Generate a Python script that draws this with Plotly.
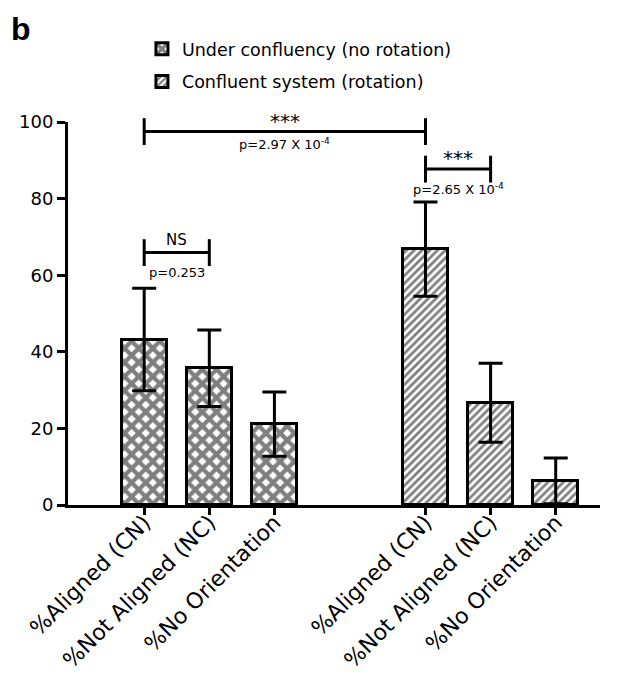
import plotly.graph_objects as go

# bar data
labels = ["%Aligned (CN)", "%Not Aligned (NC)", "%No Orientation"]
x_under = [0, 1, 2]
x_conf = [4.32, 5.32, 6.32]
mean_under = [43.2, 35.7, 21.1]
sem_under = [13.4, 10.0, 8.4]
mean_conf = [66.8, 26.7, 6.3]
sem_conf = [12.3, 10.3, 6.0]

# significance comparisons: (x from, x to, line height, stars, p text)
comparisons = [
    (0, 4.32, 97.5, "***", "p=2.97 X 10<sup>-4</sup>"),
    (4.32, 5.32, 87.7, "***", "p=2.65 X 10<sup>-4</sup>"),
    (0, 1, 65.9, "NS", "p=0.253"),
]

FONT = "DejaVu Sans, Verdana, sans-serif"

fig = go.Figure()
fig.add_trace(go.Bar(
    x=x_under, y=mean_under, name="Under confluency (no rotation)",
    width=0.69, legendgroup="a",
    marker=dict(color="white", line=dict(color="black", width=3),
                pattern=dict(shape="x", fgcolor="black", bgcolor="white",
                             size=10, solidity=0.66)),
    error_y=dict(type="data", array=sem_under, color="black", thickness=3, width=12),
))
fig.add_trace(go.Bar(
    x=x_conf, y=mean_conf, name="Confluent system (rotation)",
    width=0.69, legendgroup="b",
    marker=dict(color="white", line=dict(color="black", width=3),
                pattern=dict(shape="/", fgcolor="black", bgcolor="white",
                             size=5.5, solidity=0.5)),
    error_y=dict(type="data", array=sem_conf, color="black", thickness=3, width=12),
))

# significance brackets (y given in paper units = value / 100 since range is 0-100)
annotations = []
for x0, x1, yv, stars, ptxt in comparisons:
    yp = yv / 100
    fig.add_shape(type="line", xref="x", yref="paper", x0=x0, x1=x1, y0=yp, y1=yp,
                  line=dict(color="black", width=3))
    for xx in (x0, x1):
        fig.add_shape(type="line", xref="x", yref="paper", x0=xx, x1=xx,
                      y0=yp - 0.035, y1=yp + 0.035, line=dict(color="black", width=3))
    is_star = stars == "***"
    annotations.append(dict(x=(x0 + x1) / 2, y=yp, xref="x", yref="paper", text=stars,
                            showarrow=False, yanchor="bottom", yshift=-3 if is_star else 2,
                            font=dict(size=20 if is_star else 15, color="black", family=FONT)))
    annotations.append(dict(x=(x0 + x1) / 2, y=yp, xref="x", yref="paper", text=ptxt,
                            showarrow=False, yanchor="top", yshift=-2 if yv > 95 else -10,
                            font=dict(size=13, color="black", family=FONT)))

annotations.append(dict(x=-0.111, y=1.295, xref="paper", yref="paper", text="<b>b</b>",
                        showarrow=False, xanchor="left", yanchor="top",
                        font=dict(size=32, color="black", family="Arial, Liberation Sans")))

fig.update_layout(
    width=621, height=670,
    margin=dict(l=60, r=29, t=114, b=173),
    plot_bgcolor="white", paper_bgcolor="white",
    font=dict(family=FONT, color="black"),
    showlegend=True,
    legend=dict(x=0.139, y=1.2376, xanchor="left", yanchor="top",
                font=dict(size=17.5, color="black", family=FONT),
                tracegroupgap=7, bgcolor="rgba(0,0,0,0)"),
    annotations=annotations,
    bargap=0,
)
fig.update_xaxes(
    range=[-1.17, 7.0], tickvals=x_under + x_conf, ticktext=labels + labels,
    tickangle=-45, ticks="outside", ticklen=7, tickwidth=3, tickcolor="black",
    showline=True, linecolor="black", linewidth=3, showgrid=False, zeroline=False,
    tickfont=dict(size=22, color="black", family=FONT), automargin=False,
    ticklabelstandoff=-14,
)
fig.update_yaxes(
    range=[0, 100], tickvals=[0, 20, 40, 60, 80, 100],
    ticks="outside", ticklen=8, tickwidth=3, tickcolor="black",
    showline=True, linecolor="black", linewidth=3, showgrid=False, zeroline=False,
    tickfont=dict(size=18, color="black", family=FONT), automargin=False,
)

fig.write_html("out.html")
